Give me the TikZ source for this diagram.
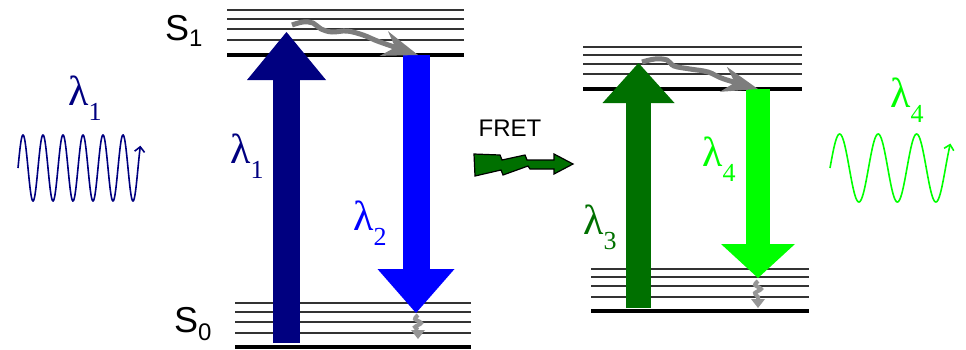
\documentclass[tikz,border=0pt]{standalone}
\usepackage{fontspec}
\setmainfont{Liberation Serif}
\setsansfont{Liberation Sans}
\usetikzlibrary{arrows.meta}
\definecolor{absblue}{RGB}{0,0,128}
\definecolor{emblue}{RGB}{0,0,255}
\definecolor{absgreen}{RGB}{0,112,0}
\definecolor{emgreen}{RGB}{0,255,0}
\definecolor{relaxgray}{RGB}{125,125,125}

\newcommand{\lam}[1]{{\fontsize{42}{42}\selectfont λ}\raisebox{-15pt}{\fontsize{26}{26}\selectfont #1}}
\newcommand{\statelabel}[2]{{\sffamily\fontsize{36}{36}\selectfont S\raisebox{-#2}{\fontsize{24}{24}\selectfont #1}}}

\begin{document}
\begin{tikzpicture}[
    x=1pt, y=-1pt,
    level/.style={line width=1.8pt, black!80},
    ground/.style={line width=3.5pt, black},
    absorb/.style={draw=#1, line width=27pt, -{Triangle[length=48pt, width=79pt, line width=0pt]}},
    emit/.style={draw=#1, line width=27pt, -{Triangle[length=44pt, width=77pt, line width=0pt]}},
    relax/.style={draw=relaxgray, line width=5pt, line join=round, -{Stealth[length=36pt, width=26pt, inset=12pt, line width=0pt]}},
    drop/.style={draw=relaxgray!80, line width=4pt, -{Triangle[length=9pt, width=14pt, line width=0pt]}},
    wave/.style={draw=#1, line width=1.6pt, -{Straight Barb[length=5pt, width=10pt]}},
    label/.style={anchor=base west, inner sep=0pt, text=#1}
]
\useasboundingbox (0,0) rectangle (966,349);

% donor levels
\foreach \y in {10,19,29,40} \draw[level] (227,\y) -- (464,\y);
\draw[ground] (227,55) -- (464,55);
\foreach \y in {303,312,322,333} \draw[level] (235,\y) -- (471,\y);
\draw[ground] (235,347) -- (471,347);

% acceptor levels
\foreach \y in {47,55,64,74} \draw[level] (583,\y) -- (802,\y);
\draw[ground] (583,89) -- (802,89);
\foreach \y in {269,277,286,297} \draw[level] (591,\y) -- (809,\y);
\draw[ground] (591,311) -- (809,311);

% donor transitions
\coordinate (absfoot) at (286.5,343);
\coordinate (abstip) at (286.5,32);
\coordinate (emtop) at (416,55);
\coordinate (emtip) at (416,313);
\draw[absorb=absblue] (absfoot) -- (abstip);
\draw[emit=emblue] (emtop) -- (emtip);

% acceptor transitions
\coordinate (accfoot) at (638.5,308);
\coordinate (acctip) at (638.5,63);
\coordinate (accemtop) at (758,89);
\coordinate (accemtip) at (758,278);
\draw[absorb=absgreen, line width=25pt, -{Triangle[length=40pt, width=72pt, line width=0pt]}] (accfoot) -- (acctip);
\draw[emit=emgreen, line width=24pt, -{Triangle[length=34pt, width=74pt, line width=0pt]}] (accemtop) -- (accemtip);

% vibrational relaxation
\draw[relax] plot[smooth, tension=0.6] coordinates {(292,25) (303,22) (313,23) (321,29) (332,32) (347,31) (363,35) (380,42) (418,55)};
\draw[relax] plot[smooth, tension=0.6] coordinates {(642,62) (655,59) (667,60) (674,66) (690,69) (708,72) (724,79) (758,89)};
\draw[drop] plot[smooth] coordinates {(418,315) (415,319) (421,323) (415,327) (418,330)} -- (418,339);
\draw[drop] plot[smooth] coordinates {(758,281) (755,285) (761,289) (755,293) (758,297)} -- (758,308);

% state labels
\node[label=black] (sone) at (165,40) {\statelabel{1}{6pt}};
\node[label=black] (szero) at (174,332) {\statelabel{0}{8pt}};

% wavelength labels
\node[label=absblue] (lamwaveone) at (68,105) {\lam{1}};
\node[label=absblue] (lamabs) at (230,163) {\lam{1}};
\node[label=emblue] (lamem) at (353,230) {\lam{2}};
\node[label=absgreen] (lamacc) at (583,234) {\lam{3}};
\node[label=emgreen] (lamaccem) at (702,166) {\lam{4}};
\node[label=emgreen] (lamwavefour) at (890,107) {\lam{4}};

% light waves
\draw[wave=absblue] plot[domain=0:6.12, samples=300, smooth] ({18+20*\x},{168-33*sin(360*\x)});
\draw[wave=emgreen] plot[domain=0:3.13, samples=200, smooth] ({830+38.5*\x},{168-34*sin(360*\x)});

% FRET
\node[anchor=center, inner sep=0pt, font=\sffamily\fontsize{24}{24}\selectfont] (fret) at (510,128) {FRET};
\draw[fill=absgreen, draw=black, line width=1.2pt, line join=miter]
  (474,154) -- (500,155) -- (502,160) -- (525,155) -- (527,160) -- (554,160) -- (554,154)
  -- (573,164) -- (554,174) -- (554,169) -- (530,169) -- (528,166) -- (503,175) -- (501,170)
  -- (475,176) -- cycle;

\end{tikzpicture}
\end{document}
